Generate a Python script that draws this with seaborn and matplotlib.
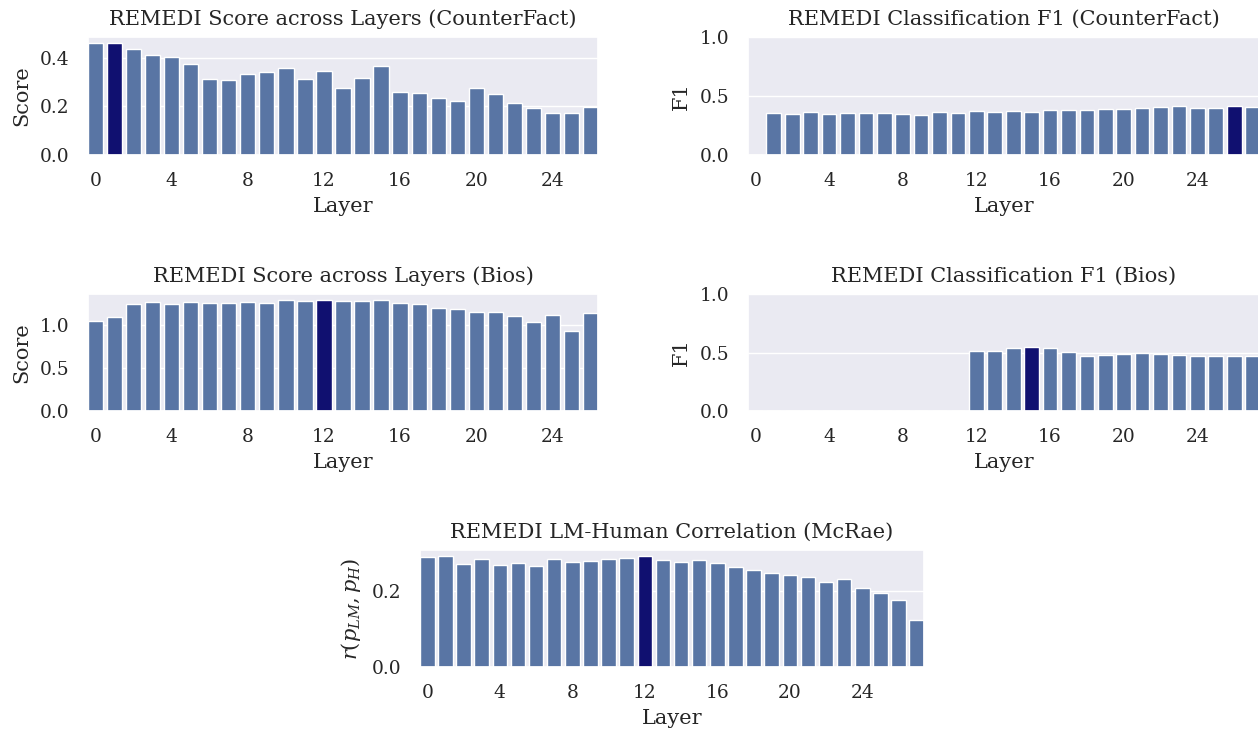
import numpy as np
import pandas as pd
import matplotlib
matplotlib.use("Agg")
import matplotlib.pyplot as plt
import seaborn as sns

# ---------------- data ----------------
cf_score = [0.460, 0.463, 0.436, 0.414, 0.404, 0.375, 0.313, 0.309, 0.335, 0.340,
            0.359, 0.314, 0.347, 0.274, 0.317, 0.365, 0.258, 0.255, 0.233, 0.222,
            0.275, 0.250, 0.213, 0.195, 0.175, 0.173, 0.198]
cf_f1 = [0.0, 0.356, 0.345, 0.362, 0.351, 0.359, 0.356, 0.353, 0.351, 0.342,
         0.362, 0.359, 0.374, 0.368, 0.376, 0.362, 0.382, 0.382, 0.385, 0.394,
         0.394, 0.402, 0.411, 0.416, 0.402, 0.402, 0.419, 0.408]
bios_score = [1.047, 1.086, 1.237, 1.261, 1.241, 1.265, 1.249, 1.249, 1.265, 1.257,
              1.286, 1.276, 1.292, 1.272, 1.280, 1.284, 1.253, 1.241, 1.198, 1.187,
              1.148, 1.148, 1.101, 1.035, 1.109, 0.922, 1.136]
bios_f1 = [0.0, 0.0, 0.0, 0.0, 0.0, 0.0, 0.0, 0.0, 0.0, 0.0, 0.0, 0.0,
           0.510, 0.510, 0.539, 0.548, 0.539, 0.507, 0.467, 0.481, 0.487, 0.499,
           0.484, 0.476, 0.467, 0.467, 0.470, 0.470]
mcrae_corr = [0.289, 0.292, 0.271, 0.284, 0.268, 0.275, 0.266, 0.286, 0.278, 0.279,
              0.284, 0.288, 0.294, 0.281, 0.278, 0.282, 0.275, 0.265, 0.257, 0.247,
              0.243, 0.237, 0.225, 0.231, 0.208, 0.195, 0.178, 0.124]

highlight_cf_score = 1
highlight_cf_f1 = 26
highlight_bios_score = 12
highlight_bios_f1 = 15
highlight_mcrae = 12

titles = ["REMEDI Score across Layers (CounterFact)",
          "REMEDI Classification F1 (CounterFact)",
          "REMEDI Score across Layers (Bios)",
          "REMEDI Classification F1 (Bios)",
          "REMEDI LM-Human Correlation (McRae)"]
ylabels = ["Score", "F1", "Score", "F1", r"$r(p_{LM}, p_H)$"]
xlabel = "Layer"
xtick_labels = [0, 4, 8, 12, 16, 20, 24]
yticks_cf_score = [0.0, 0.2, 0.4]
yticks_f1 = [0.0, 0.5, 1.0]
yticks_bios_score = [0.0, 0.5, 1.0]
yticks_mcrae = [0.0, 0.2]

# ---------------- style ----------------
sns.set_theme(style="darkgrid", context="notebook")
plt.rcParams["font.family"] = ["DejaVu Serif"]
plt.rcParams["mathtext.fontset"] = "dejavuserif"
plt.rcParams.update({
    "axes.titlesize": 15,
    "axes.labelsize": 15,
    "xtick.labelsize": 13.4,
    "ytick.labelsize": 13.4,
    "xtick.major.size": 0,
    "ytick.major.size": 0,
    "xtick.major.pad": 12.5,
    "ytick.major.pad": 13.5,
    "axes.titlepad": 8.5,
    "axes.labelpad": 6,
})

base_color = "#4C72B0"
hi_color = "navy"

fig = plt.figure(figsize=(12.58, 7.29), dpi=100)
W, H = 1258.0, 729.0

def axes_px(x0, x1, y0, y1):
    return fig.add_axes([x0 / W, 1 - y1 / H, (x1 - x0) / W, (y1 - y0) / H])

panels = [
    (axes_px(88, 598, 37, 155), cf_score, highlight_cf_score, yticks_cf_score, None),
    (axes_px(748, 1260, 37, 155), cf_f1, highlight_cf_f1, yticks_f1, (0, 1.0)),
    (axes_px(88, 598, 294, 411), bios_score, highlight_bios_score, yticks_bios_score, None),
    (axes_px(748, 1260, 294, 411), bios_f1, highlight_bios_f1, yticks_f1, (0, 1.0)),
    (axes_px(420, 924, 550, 667), mcrae_corr, highlight_mcrae, yticks_mcrae, None),
]

for i, (ax, vals, hi, yt, ylim) in enumerate(panels):
    n = len(vals)
    df = pd.DataFrame({"layer": np.arange(n), "value": vals})
    pal = [hi_color if k == hi else base_color for k in range(n)]
    sns.barplot(data=df, x="layer", y="value", hue="layer", palette=pal,
                legend=False, ax=ax)
    ax.set_xticks(xtick_labels)
    ax.set_xticklabels([str(t) for t in xtick_labels])
    ax.set_xlim(-0.4, n - 0.6)
    if ylim is not None:
        ax.set_ylim(*ylim)
    ax.set_yticks(yt)
    ax.set_yticklabels([f"{t:.1f}" for t in yt])
    ax.set_title(titles[i])
    ax.set_xlabel(xlabel, labelpad=5)
    ax.set_ylabel(ylabels[i], labelpad=6)

fig.savefig("out.png", dpi=100)
